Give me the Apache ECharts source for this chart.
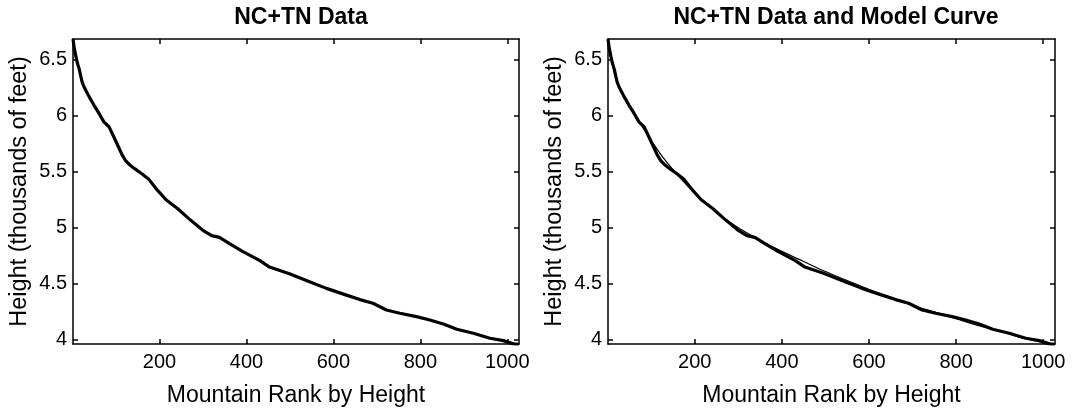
<!DOCTYPE html>
<html>
<head>
<meta charset="utf-8">
<script src="https://cdn.jsdelivr.net/npm/echarts@6/dist/echarts.min.js"></script>
<style>html,body{margin:0;padding:0;background:#fff}#c{width:1077px;height:412px}</style>
</head>
<body>
<div id="c"></div>
<script>
// Observed data (rank, height in thousands of feet)
const ranks = [1, 4, 7, 11, 15, 19, 22, 26, 30, 38, 49, 61, 72, 84, 95, 107, 114, 122, 132, 142, 160, 176, 192, 215, 242, 268, 299, 320, 338, 361, 391, 430, 453, 499, 545, 584, 630, 661, 691, 722, 753, 791, 822, 853, 884, 922, 960, 991, 1014, 1027];
const heights = [6.684, 6.60, 6.54, 6.47, 6.42, 6.35, 6.30, 6.26, 6.23, 6.17, 6.095, 6.02, 5.945, 5.90, 5.81, 5.71, 5.65, 5.60, 5.56, 5.53, 5.48, 5.43, 5.35, 5.25, 5.17, 5.08, 4.98, 4.93, 4.915, 4.86, 4.79, 4.71, 4.65, 4.59, 4.52, 4.46, 4.40, 4.36, 4.327, 4.267, 4.238, 4.208, 4.178, 4.143, 4.095, 4.06, 4.015, 3.994, 3.965, 3.96];
// Model curve
const modelRanks = [1, 10, 25, 50, 75, 100, 125, 150, 175, 200, 250, 300, 350, 400, 450, 500, 550, 600, 650, 700, 750, 800, 850, 900, 950, 1000, 1027];
const modelHeights = [6.68, 6.48, 6.26, 6.08, 5.93, 5.78, 5.64, 5.52, 5.41, 5.31, 5.14, 5.00, 4.89, 4.79, 4.70, 4.61, 4.53, 4.45, 4.38, 4.31, 4.25, 4.19, 4.13, 4.08, 4.02, 3.98, 3.955];
const xTicks = [200, 400, 600, 800, 1000];
const yTicks = [4, 4.5, 5, 5.5, 6, 6.5];
const titles = ['NC+TN Data', 'NC+TN Data and Model Curve'];
const xName = 'Mountain Rank by Height';
const yName = 'Height (thousands of feet)';

const FONT = '"Liberation Sans", Arial, Helvetica, sans-serif';
const XMIN = 1, XMAX = 1027, YMIN = 3.964, YMAX = 6.684;
const lineStyle = {color: '#000', width: 1.5};
const fmt = v => String(v);

const grids = [
  {left: 73, top: 39, width: 446, height: 305},
  {left: 608, top: 39, width: 447, height: 305}
];
const xAxes = [], yAxes = [];
grids.forEach((g, i) => {
  xAxes.push({
    type: 'value', gridIndex: i, position: 'bottom', min: XMIN, max: XMAX,
    name: xName, nameLocation: 'middle', nameGap: 40,
    nameTextStyle: {fontFamily: FONT, fontSize: 23, color: '#000'},
    axisLine: {show: true, onZero: false, lineStyle},
    axisTick: {show: true, inside: true, length: 5, lineStyle, customValues: xTicks},
    axisLabel: {fontFamily: FONT, fontSize: 20, color: '#000', margin: 8, customValues: xTicks, formatter: fmt},
    splitLine: {show: false}
  });
  xAxes.push({
    type: 'value', gridIndex: i, position: 'top', min: XMIN, max: XMAX,
    axisLine: {show: true, onZero: false, lineStyle},
    axisTick: {show: true, inside: true, length: 5, lineStyle, customValues: xTicks},
    axisLabel: {show: false}, splitLine: {show: false}
  });
  yAxes.push({
    type: 'value', gridIndex: i, position: 'left', min: YMIN, max: YMAX,
    name: yName, nameLocation: 'middle', nameGap: 41,
    nameTextStyle: {fontFamily: FONT, fontSize: 23.5, color: '#000'},
    axisLine: {show: true, onZero: false, lineStyle},
    axisTick: {show: true, inside: true, length: 5, lineStyle, customValues: yTicks},
    axisLabel: {fontFamily: FONT, fontSize: 20, color: '#000', margin: 6, customValues: yTicks, formatter: fmt},
    splitLine: {show: false}
  });
  yAxes.push({
    type: 'value', gridIndex: i, position: 'right', min: YMIN, max: YMAX,
    axisLine: {show: true, onZero: false, lineStyle},
    axisTick: {show: true, inside: true, length: 5, lineStyle, customValues: yTicks},
    axisLabel: {show: false}, splitLine: {show: false}
  });
});

const dataPairs = ranks.map((r, k) => [r, heights[k]]);
const modelPairs = modelRanks.map((r, k) => [r, modelHeights[k]]);

const chart = echarts.init(document.getElementById('c'), null, {renderer: 'canvas'});
chart.setOption({
  animation: false,
  backgroundColor: '#fff',
  title: [
    {text: titles[0], left: 296, top: 1, textAlign: 'center',
     textStyle: {fontFamily: FONT, fontSize: 23, fontWeight: 'bold', color: '#000'}},
    {text: titles[1], left: 831, top: 1, textAlign: 'center',
     textStyle: {fontFamily: FONT, fontSize: 23, fontWeight: 'bold', color: '#000'}}
  ],
  grid: grids,
  xAxis: xAxes,
  yAxis: yAxes,
  series: [
    {type: 'line', xAxisIndex: 0, yAxisIndex: 0, data: dataPairs, showSymbol: false,
     lineStyle: {color: '#000', width: 3.2}, clip: true},
    {type: 'line', xAxisIndex: 2, yAxisIndex: 2, data: dataPairs, showSymbol: false,
     lineStyle: {color: '#000', width: 3.2}, clip: true},
    {type: 'line', xAxisIndex: 2, yAxisIndex: 2, data: modelPairs, showSymbol: false, smooth: 0.3,
     lineStyle: {color: '#000', width: 1.2}, clip: true}
  ]
});
</script>
</body>
</html>
